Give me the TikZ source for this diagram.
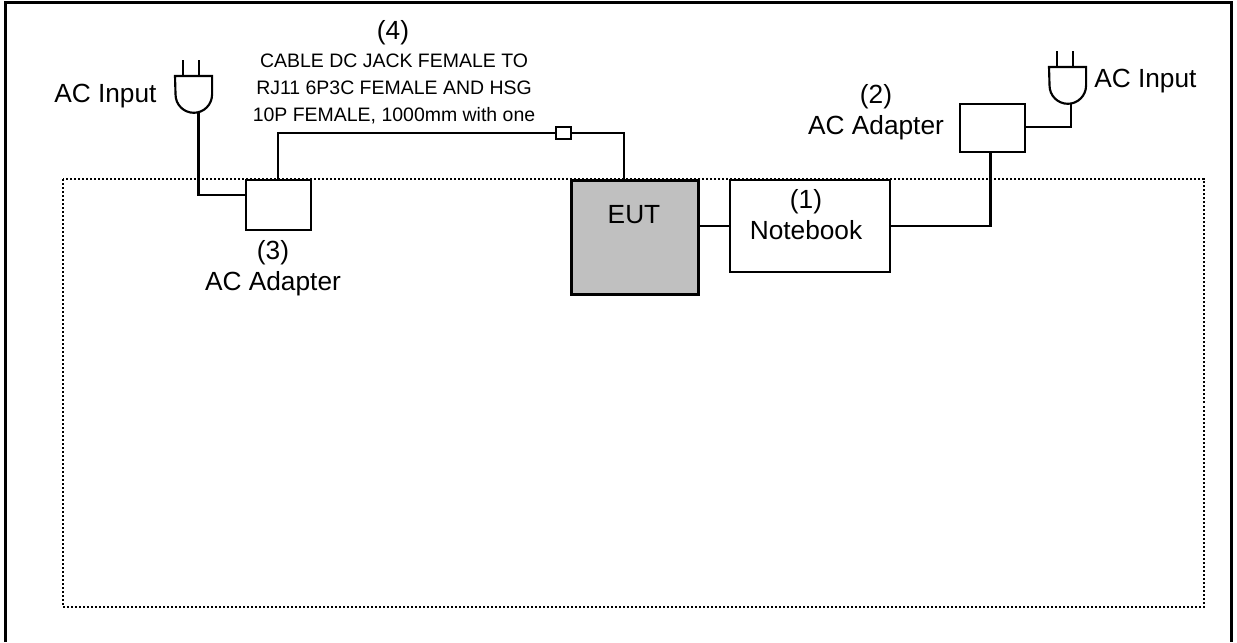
\documentclass[tikz,border=0pt]{standalone}
\usepackage{fontspec}
\setmainfont{Liberation Sans}
\usetikzlibrary{positioning,calc}
\definecolor{cEut}{HTML}{C0C0C0}

\begin{document}
\begin{tikzpicture}[
    x=0.75pt, y=-0.75pt,
    every node/.style={text=black},
    wire/.style={line width=1.6pt, draw=black},
    unit/.style={
        rectangle, draw=black, line width=1.6pt, fill=white,
        inner sep=0pt, anchor=north west
    },
    eutbox/.style={unit, draw=black, line width=2.3pt, fill=cEut},
    plugbody/.style={
        rectangle, inner sep=0pt, minimum width=27.4pt, minimum height=27.4pt,
        anchor=north west
    },
    plain/.style={font=\fontsize{19.7}{23.3}\selectfont, align=center, inner sep=0pt},
    cablelbl/.style={font=\fontsize{14.6}{20.25}\selectfont, align=center, inner sep=0pt},
]

\useasboundingbox (0,0) rectangle (1237,642);

% =====================================================
% Frames
% =====================================================

\coordinate (frameNW) at (5.4,2.5);
\coordinate (frameSE) at (1231.5,642);
\draw[line width=2.3pt] (frameNW |- frameSE) -- (frameNW) -- (frameNW -| frameSE) -- (frameSE);

\coordinate (roomNW) at (63,179);
\coordinate (roomSE) at (1203.5,607);
\draw[line width=1.5pt, dash pattern=on 1.5pt off 1.5pt] (roomNW) rectangle (roomSE);

% =====================================================
% Units
% =====================================================

\node[unit, minimum width=48.75pt, minimum height=37.5pt] (adapter3) at (245,179) {};
\node[unit, minimum width=48.75pt, minimum height=36pt]    (adapter2) at (959,103) {};
\node[unit, minimum width=120pt, minimum height=69pt]      (notebook) at (729,179) {};
\node[eutbox, minimum width=95pt, minimum height=85.5pt]   (eut)      at (570,179) {};
\node[unit, minimum width=11.5pt, minimum height=9.5pt]    (joint)    at (554.5,125.5) {};

% =====================================================
% Plugs
% =====================================================

\node[plugbody] (plugL) at (175,76) {};
\node[plugbody] (plugR) at (1049,67) {};

\foreach \plug in {plugL,plugR} {
    \draw[wire] (\plug.north west) -- (\plug.north east) -- (\plug.east)
        arc[start angle=0, end angle=-180, radius=13.7pt] -- cycle;
    \draw[wire] ($(\plug.north west)+(8,0)$) -- ++(0,-16);
    \draw[wire] ($(\plug.north west)+(24,0)$) -- ++(0,-16);
}

% =====================================================
% Connectors
% =====================================================

\coordinate (cordL) at (198.5,113);
\coordinate (cordR) at (1071,103);
\coordinate (cableUp) at (278,179);
\coordinate (cableDown) at (624,179);

\draw[wire] (cordL) |- (adapter3.west |- 0,195);
\draw[wire] (cableUp) |- (joint.west);
\draw[wire] (joint.east) -| (cableDown);
\draw[wire] (eut.east |- 0,226) -- (notebook.west |- 0,226);
\draw[wire] (notebook.east |- 0,226) -| (990.5,151);
\draw[wire] (cordR) |- (adapter2.east |- 0,127);

% =====================================================
% Labels
% =====================================================

\node[plain, anchor=base west] (acL) at (54,103) {AC Input};
\node[plain, anchor=base west] (acR) at (1094,88) {AC Input};
\node[plain] (lbl3) at (273,268.5) {(3)\\AC Adapter};
\node[plain] (lbl2) at (876,112) {(2)\\AC Adapter};
\node[plain] (lbl1) at (806,214.5) {(1)\\Notebook};
\node[plain, anchor=base] (lblEut) at (634,223) {EUT};
\node[plain, anchor=base] (lbl4) at (393,40) {(4)};
\node[cablelbl] (lblCable) at (394,89)
    {CABLE DC JACK FEMALE TO\\RJ11 6P3C FEMALE AND HSG\\10P FEMALE, 1000mm with one};

\end{tikzpicture}
\end{document}
